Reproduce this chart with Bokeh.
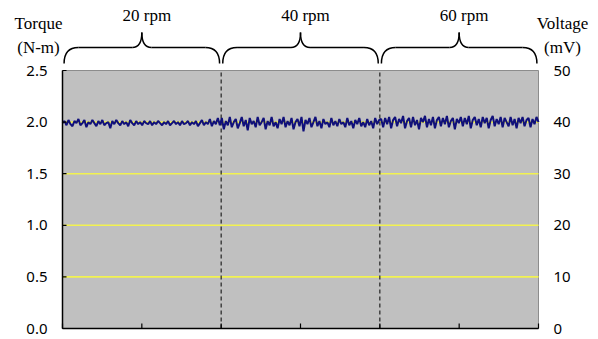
from bokeh.plotting import figure
from bokeh.models import Range1d, ColumnDataSource
from bokeh.core.properties import value
from bokeh.embed import file_html
from bokeh.resources import INLINE

# ---- data ----
segments = ["20 rpm", "40 rpm", "60 rpm"]
segment_bounds = [0, 2, 4, 6]

torque_20 = [1.99, 2.01, 1.97, 2.02, 1.98, 1.96, 2.01, 1.99, 2.03, 1.97, 1.99, 2.02, 1.95, 2.00, 1.98, 2.02, 1.99, 1.96, 2.01, 1.98,
             2.02, 1.97, 1.99, 2.00, 1.94, 2.01, 1.98, 2.02, 1.99, 1.97, 2.01, 1.98, 2.00, 1.96, 2.02, 1.99, 1.97, 2.01, 1.98, 2.00,
             1.97, 2.01, 1.99, 1.98, 2.01, 1.97, 2.00, 1.98, 2.01, 1.99, 1.97, 2.00, 1.98, 2.01, 1.97, 1.99, 2.01, 1.98, 2.00, 1.97,
             2.01, 1.98, 1.99, 2.01, 1.97, 2.00, 1.98, 2.01, 1.96, 1.99, 2.02, 1.97, 2.00, 1.98, 2.03, 1.96, 2.01, 1.98, 2.04, 1.97]
torque_40 = [2.04, 1.93, 2.01, 1.97, 2.05, 1.95, 2.00, 2.03, 1.94, 1.99, 2.05, 1.96, 2.02, 1.92, 2.04, 1.98, 2.01, 1.95, 2.05, 1.97,
             2.00, 2.04, 1.93, 2.01, 1.97, 2.05, 1.96, 2.00, 1.94, 2.03, 1.98, 2.05, 1.95, 2.01, 1.97, 2.04, 1.93, 2.00, 2.03, 1.96,
             2.05, 1.91, 2.02, 1.98, 2.04, 1.95, 2.00, 2.05, 1.96, 2.01, 1.94, 2.03, 1.98, 2.00, 1.95, 2.04, 1.97, 2.01, 1.96, 2.03,
             1.98, 2.00, 1.95, 2.04, 1.97, 2.01, 1.94, 2.02, 1.98, 2.04, 1.96, 2.00, 1.95, 2.03, 1.97, 2.01, 1.94, 2.04, 1.98, 2.02]
torque_60 = [2.03, 1.95, 2.04, 1.98, 2.05, 1.94, 2.02, 2.05, 1.96, 2.03, 1.99, 2.06, 1.94, 2.01, 2.04, 1.95, 2.05, 1.97, 2.02, 1.93,
             2.04, 2.00, 2.06, 1.95, 2.03, 1.97, 2.05, 1.94, 2.02, 2.05, 1.96, 2.04, 1.98, 2.06, 1.95, 2.01, 2.04, 1.93, 2.03, 1.99,
             2.05, 1.96, 2.04, 1.98, 2.06, 1.94, 2.02, 2.05, 1.97, 2.03, 1.95, 2.05, 1.99, 2.04, 1.94, 2.02, 2.06, 1.96, 2.03, 1.98,
             2.05, 1.95, 2.04, 2.00, 1.96, 2.05, 1.97, 2.03, 1.94, 2.04, 1.99, 2.05, 1.96, 2.02, 2.04, 1.95, 2.03, 1.98, 2.05, 2.00]

torque_ticks = [0.0, 0.5, 1.0, 1.5, 2.0, 2.5]
torque_labels = ["0.0", "0.5", "1.0", "1.5", "2.0", "2.5"]
voltage_ticks = [0, 10, 20, 30, 40, 50]
voltage_labels = ["0", "10", "20", "30", "40", "50"]
x_ticks = [0, 1, 2, 3, 4, 5, 6]
grid_levels = [0.5, 1.0, 1.5, 2.0]

# ---- build ----
torque = torque_20 + torque_40 + torque_60
n = len(torque)
dt = (segment_bounds[-1] - segment_bounds[0]) / (n - 1)
t = [segment_bounds[0] + i * dt for i in range(n)]

W, H = 598, 339
L, R, T, B = 62, 538, 70, 328          # plot area in pixels
X0, X1 = segment_bounds[0], segment_bounds[-1]
YMAX = torque_ticks[-1]
VMAX = voltage_ticks[-1]
XS = (R - L) / (X1 - X0)
YS = (B - T) / YMAX

p = figure(width=W, height=H, output_backend="svg", toolbar_location=None,
           x_range=Range1d(X0 - L / XS, X1 + (W - R) / XS),
           y_range=Range1d(-(H - B) / YS, B / YS),
           min_border=0, min_border_left=0, min_border_right=0, min_border_top=0, min_border_bottom=0)
p.extra_y_ranges = {"volt": Range1d(-(H - B) / YS * VMAX / YMAX, B / YS * VMAX / YMAX)}
p.axis.visible = False
p.grid.visible = False
p.outline_line_color = None
p.background_fill_color = "white"
p.border_fill_color = "white"

# plot area background
p.quad(left=[X0], right=[X1], bottom=[0], top=[YMAX],
       fill_color="#c0c0c0", line_color="#8c8c8c", line_width=1)

# yellow grid
p.segment(x0=[X0] * len(grid_levels), x1=[X1] * len(grid_levels),
          y0=grid_levels, y1=grid_levels, line_color="#f2f250", line_width=1.6)

# dividers
divs = segment_bounds[1:-1]
p.segment(x0=divs, x1=divs, y0=[0] * len(divs), y1=[YMAX] * len(divs),
          line_color="#222222", line_width=1.2, line_dash="4 3")

# data line
p.line(t, torque, line_color="#10107a", line_width=2)

# left axis
p.segment(x0=[X0], x1=[X0], y0=[0], y1=[YMAX], line_color="black", line_width=1.5)
p.segment(x0=[X0] * len(torque_ticks), x1=[X0 + 4 / XS] * len(torque_ticks),
          y0=torque_ticks, y1=torque_ticks, line_color="black", line_width=1.2)
p.text(x=[X0 - 15 / XS] * len(torque_ticks), y=torque_ticks, text=torque_labels,
       text_align="right", text_baseline="middle", text_font=value("Noto Sans"),
       text_font_size="15px", text_color="black")

# bottom axis
p.segment(x0=[X0], x1=[X1], y0=[0], y1=[0], line_color="black", line_width=1.5)
p.segment(x0=x_ticks, x1=x_ticks, y0=[0] * len(x_ticks), y1=[5 / YS] * len(x_ticks),
          line_color="black", line_width=1.2)

# right labels (voltage)
p.text(x=[X1 + 15 / XS] * len(voltage_ticks), y=voltage_ticks, text=voltage_labels,
       y_range_name="volt", text_align="left", text_baseline="middle",
       text_font=value("Noto Sans"), text_font_size="15px", text_color="black")

# braces
yb = (B - 63) / YS
ym = (B - 47) / YS
yt = (B - 32) / YS
for a, b in zip(segment_bounds[:-1], segment_bounds[1:]):
    c = (a + b) / 2
    a0, b0 = a + 0.02, b - 0.02
    p.quadratic(x0=[a0], y0=[yb], x1=[a0 + 0.18], y1=[ym], cx=[a0], cy=[ym], line_color="black", line_width=1.5)
    p.line([a0 + 0.18, c - 0.12], [ym, ym], line_color="black", line_width=1.5)
    p.quadratic(x0=[c - 0.12], y0=[ym], x1=[c], y1=[yt], cx=[c], cy=[ym], line_color="black", line_width=1.5)
    p.quadratic(x0=[c + 0.12], y0=[ym], x1=[c], y1=[yt], cx=[c], cy=[ym], line_color="black", line_width=1.5)
    p.line([c + 0.12, b0 - 0.18], [ym, ym], line_color="black", line_width=1.5)
    p.quadratic(x0=[b0], y0=[yb], x1=[b0 - 0.18], y1=[ym], cx=[b0], cy=[ym], line_color="black", line_width=1.5)

src = ColumnDataSource(dict(x=[(a + b) / 2 for a, b in zip(segment_bounds[:-1], segment_bounds[1:])],
                            y=[(B - 15) / YS] * len(segments), text=segments))
p.text(x="x", y="y", text="text", source=src, x_offset=5, text_align="center", text_baseline="middle",
       text_font=value("Liberation Serif"), text_font_size="17px", text_color="black")

# axis titles
p.text(x=[(38 - L) / XS + X0] * 2 + [(562 - R) / XS + X1] * 2,
       y=[(B - 23) / YS, (B - 47) / YS] * 2,
       text=["Torque", "(N-m)", "Voltage", "(mV)"],
       text_align="center", text_baseline="middle",
       text_font=value("Liberation Serif"), text_font_size="17px", text_color="black")

open("out.html", "w").write(file_html(p, INLINE))
